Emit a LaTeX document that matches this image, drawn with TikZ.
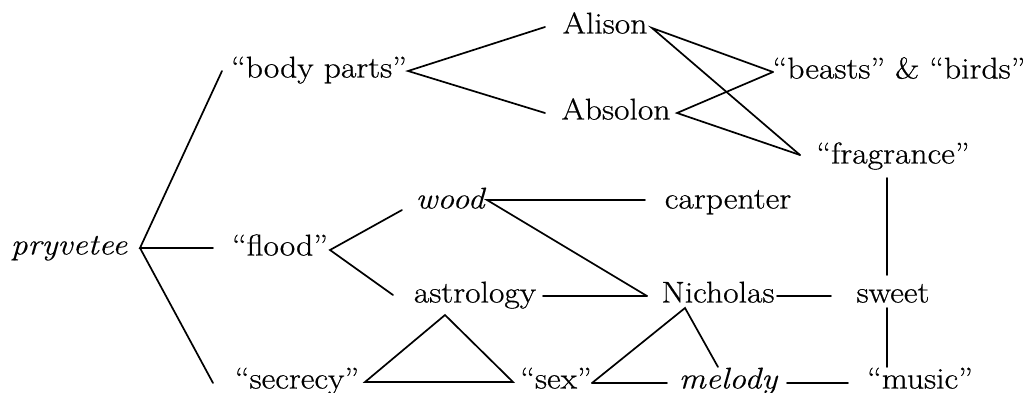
\documentclass[tikz,border=0pt]{standalone}
\usepackage{fontspec}
\setmainfont{Latin Modern Roman}[FakeStretch=1.12, UprightFeatures={FakeBold=0.6}, ItalicFeatures={FakeBold=0.2}]
\usetikzlibrary{calc}
\begin{document}
\begin{tikzpicture}[x=1pt,y=-1pt,
  lbl/.style={inner sep=0pt, text height=20pt, text depth=7pt, font=\fontsize{30}{36}\selectfont},
  ln/.style={line width=1.7pt, line cap=round, line join=miter}]
\useasboundingbox (0,0) rectangle (1025,393);
% nodes
\node[lbl] (pry) at (69,248) {\itshape pryvetee};
\node[lbl] (body) at (319,71) {“body parts”};
\node[lbl] (flood) at (280,249) {“flood”};
\node[lbl] (secrecy) at (297,382) {“secrecy”};
\node[lbl] (alison) at (605,27) {Alison};
\node[lbl] (absolon) at (616,113) {Absolon};
\node[lbl] (beasts) at (899,72) {“beasts” \& “birds”};
\node[lbl] (fragrance) at (893,157) {“fragrance”};
\node[lbl] (wood) at (450,202) {\itshape wood};
\node[lbl] (carpenter) at (728,202) {carpenter};
\node[lbl] (astrology) at (475,296) {astrology};
\node[lbl] (nicholas) at (718,296) {Nicholas};
\node[lbl] (sweet) at (893,296) {sweet};
\node[lbl] (sex) at (556,382) {“sex”};
\node[lbl] (melody) at (728,382) {\itshape melody};
\node[lbl] (music) at (920,382) {“music”};
% connectors (end points given relative to node centres)
\draw[ln] ($(body)+(-97,0)$) -- ($(pry)+(71,0)$) -- ($(flood)+(-67,-1)$);
\draw[ln] ($(pry)+(71,0)$) -- ($(secrecy)+(-84,1)$);
\draw[ln] ($(alison)+(-60,0)$) -- ($(body)+(89,0)$) -- ($(absolon)+(-71,0)$);
\draw[ln] ($(beasts)+(-126,0)$) -- ($(alison)+(47,1)$) -- ($(fragrance)+(-93,-2)$);
\draw[ln] ($(beasts)+(-126,0)$) -- ($(absolon)+(61,0)$) -- ($(fragrance)+(-93,-2)$);
\draw[ln] ($(fragrance)+(-6,21)$) -- ($(sweet)+(-6,-21)$);
\draw[ln] ($(sweet)+(-6,12)$) -- ($(music)+(-33,-15)$);
\draw[ln] ($(wood)+(-48,8)$) -- ($(flood)+(50,1)$) -- ($(astrology)+(-82,-1)$);
\draw[ln] ($(carpenter)+(-83,-2)$) -- ($(wood)+(37,-2)$) -- ($(nicholas)+(-71,0)$);
\draw[ln] ($(astrology)+(68,0)$) -- ($(nicholas)+(-71,0)$);
\draw[ln] ($(nicholas)+(59,0)$) -- ($(sweet)+(-62,0)$);
\draw[ln] ($(secrecy)+(68,0)$) -- ($(astrology)+(-30,19)$) -- ($(sex)+(-43,0)$) -- cycle;
\draw[ln] ($(sex)+(36,1)$) -- ($(nicholas)+(-33,12)$) -- ($(melody)+(-10,-15)$);
\draw[ln] ($(sex)+(36,1)$) -- ($(melody)+(-61,1)$);
\draw[ln] ($(melody)+(59,1)$) -- ($(music)+(-72,1)$);
\end{tikzpicture}
\end{document}
